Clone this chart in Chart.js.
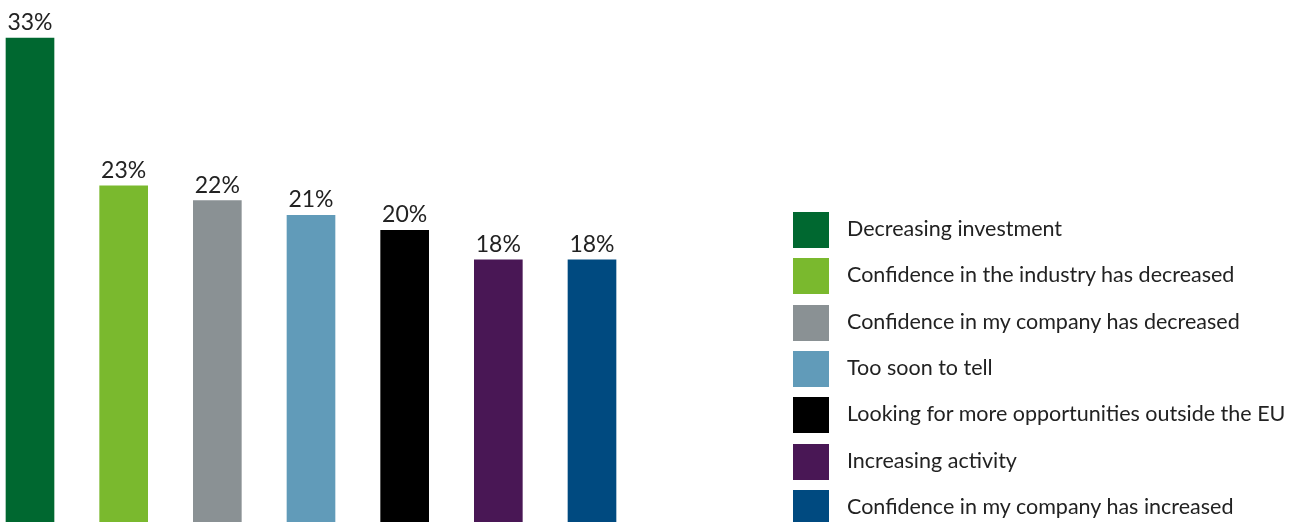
<!DOCTYPE html>
<html>
<head>
<meta charset="utf-8">
<script src="https://cdn.jsdelivr.net/npm/chart.js@4"></script>
<style>
  html, body { margin: 0; padding: 0; background: #fff; overflow: hidden; width: 1291px; height: 522px; }
  #wrap { position: absolute; left: 0; top: 0; width: 1291px; height: 526px; }
  #legend { position: absolute; left: 793px; top: 212px; font-family: Lato, sans-serif; font-size: 21.5px; color: #222; }
  .row { position: absolute; left: 0; height: 36px; display: flex; align-items: center; white-space: nowrap; }
  .sw { width: 36px; height: 36px; margin-right: 18px; flex: none; }
  .row span { position: relative; top: -2px; }
</style>
</head>
<body>
<div id="wrap"><canvas id="c" width="1291" height="526"></canvas></div>
<div id="legend"></div>
<script>
const categories = [
  "Decreasing investment",
  "Confidence in the industry has decreased",
  "Confidence in my company has decreased",
  "Too soon to tell",
  "Looking for more opportunities outside the EU",
  "Increasing activity",
  "Confidence in my company has increased"
];
const values = [33, 23, 22, 21, 20, 18, 18];
const colors = ["#006830", "#7AB92E", "#8A9194", "#619BB9", "#000000", "#491755", "#004A80"];

const legend = document.getElementById('legend');
categories.forEach((c, i) => {
  const r = document.createElement('div');
  r.className = 'row';
  r.style.top = (i * 46.3) + 'px';
  const s = document.createElement('div');
  s.className = 'sw';
  s.style.background = colors[i];
  const t = document.createElement('span');
  t.textContent = c;
  r.appendChild(s); r.appendChild(t);
  legend.appendChild(r);
});

const labelPlugin = {
  id: 'valueLabels',
  afterDatasetsDraw(chart) {
    const ctx = chart.ctx;
    const meta = chart.getDatasetMeta(0);
    ctx.save();
    ctx.font = '23px Lato, sans-serif';
    ctx.fillStyle = '#222';
    ctx.textAlign = 'center';
    ctx.textBaseline = 'alphabetic';
    meta.data.forEach((bar, i) => {
      ctx.fillText(values[i] + '%', bar.x, bar.y - 8);
    });
    ctx.restore();
  }
};

new Chart(document.getElementById('c'), {
  type: 'bar',
  data: {
    labels: categories,
    datasets: [{
      data: values,
      backgroundColor: colors,
      barThickness: 48,
      clip: false
    }]
  },
  options: {
    responsive: false,
    animation: false,
    layout: { padding: { left: 30, right: 699, top: 38, bottom: 0 } },
    plugins: { legend: { display: false }, tooltip: { enabled: false } },
    scales: {
      x: { display: false, offset: false },
      y: { display: false, min: 0, max: 33 }
    }
  },
  plugins: [labelPlugin]
});
</script>
</body>
</html>
